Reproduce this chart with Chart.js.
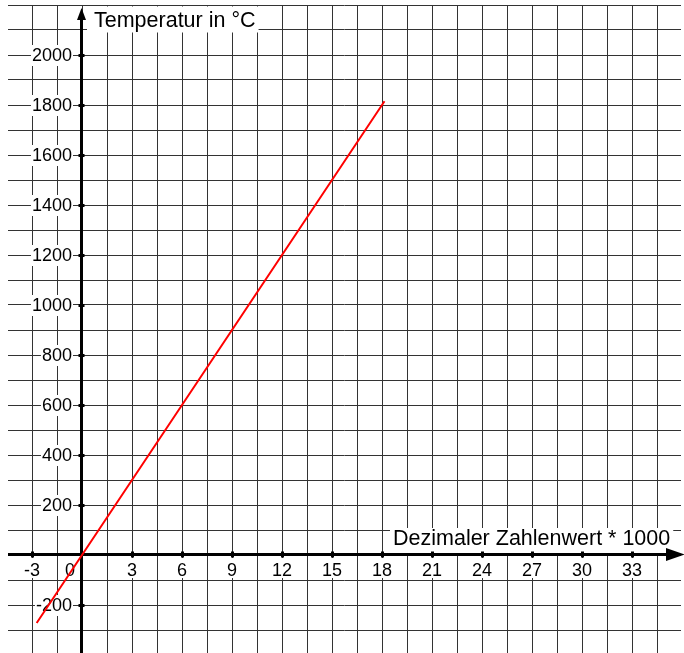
<!DOCTYPE html>
<html>
<head>
<meta charset="utf-8">
<script src="https://cdn.jsdelivr.net/npm/chart.js@4"></script>
<style>
  html, body { margin: 0; padding: 0; background: #fff; }
  #wrap { width: 684px; height: 653px; }
</style>
</head>
<body>
<div id="wrap"><canvas id="c" width="684" height="653"></canvas></div>
<script>
// ---- data ----
const xValues = [-2.72, 0, 18.15];
const yValues = [-272, 0, 1815];

const xTickLabels = [-3, 3, 6, 9, 12, 15, 18, 21, 24, 27, 30, 33];
const yTickLabels = [-200, 200, 400, 600, 800, 1000, 1200, 1400, 1600, 1800, 2000];
const originLabel = '0';

const xGridLines = [-3, -1.5, 0, 1.5, 3, 4.5, 6, 7.5, 9, 10.5, 12, 13.5, 15, 16.5, 18, 19.5,
  21, 22.5, 24, 25.5, 27, 28.5, 30, 31.5, 33, 34.5];
const yGridLines = [-300, -200, -100, 0, 100, 200, 300, 400, 500, 600, 700, 800, 900, 1000,
  1100, 1200, 1300, 1400, 1500, 1600, 1700, 1800, 1900, 2000, 2100, 2200];

const yAxisTitle = 'Temperatur in °C';
const xAxisTitle = 'Dezimaler Zahlenwert * 1000';

const X_MIN = -4.44, X_MAX = 35.94;
const Y_MIN = -392, Y_MAX = 2200;

const points = xValues.map((x, i) => ({ x: x, y: yValues[i] }));

const FONT = '"Liberation Sans", Arial, sans-serif';

const axisPlugin = {
  id: 'axisPlugin',
  beforeDatasetsDraw(chart) {
    const ctx = chart.ctx;
    const xs = chart.scales.x, ys = chart.scales.y;
    const ca = chart.chartArea;
    const x0 = xs.getPixelForValue(0);
    const y0 = ys.getPixelForValue(0);
    ctx.save();

    // ---- tick label backgrounds + text ----
    ctx.font = '18px ' + FONT;
    ctx.fillStyle = '#000';
    // y labels
    ctx.textAlign = 'right';
    ctx.textBaseline = 'middle';
    yTickLabels.forEach(v => {
      const py = ys.getPixelForValue(v);
      const t = String(v);
      const w = ctx.measureText(t).width;
      ctx.fillStyle = '#fff';
      ctx.fillRect(x0 - 10 - w - 1, py - 10, w + 2, 21);
      ctx.fillStyle = '#000';
      ctx.fillText(t, x0 - 10, py + 1);
    });
    // x labels
    ctx.textAlign = 'center';
    ctx.textBaseline = 'alphabetic';
    xTickLabels.forEach(v => {
      const px = xs.getPixelForValue(v);
      const t = String(v);
      const w = ctx.measureText(t).width;
      ctx.fillStyle = '#fff';
      ctx.fillRect(px - w / 2 - 1, y0 + 3, w + 2, 20);
      ctx.fillStyle = '#000';
      ctx.fillText(t, px, y0 + 21);
    });
    // origin label
    {
      const w = ctx.measureText(originLabel).width;
      ctx.fillStyle = '#fff';
      ctx.fillRect(x0 - 12 - w / 2 - 1, y0 + 3, w + 2, 20);
      ctx.fillStyle = '#000';
      ctx.fillText(originLabel, x0 - 12, y0 + 21);
    }

    // ---- axis titles ----
    ctx.font = '21.5px ' + FONT;
    ctx.textAlign = 'left';
    ctx.textBaseline = 'alphabetic';
    {
      const w = ctx.measureText(yAxisTitle).width;
      ctx.fillStyle = '#fff';
      ctx.fillRect(x0 + 5, ca.top + 1.5, w + 10, 26);
      ctx.fillStyle = '#000';
      ctx.fillText(yAxisTitle, x0 + 12, ca.top + 22);
    }
    {
      const w = ctx.measureText(xAxisTitle).width;
      ctx.fillStyle = '#fff';
      ctx.fillRect(x0 + 308, y0 - 27, w + 6, 25);
      ctx.fillStyle = '#000';
      ctx.fillText(xAxisTitle, x0 + 311, y0 - 10);
    }

    // ---- axes ----
    ctx.strokeStyle = '#000';
    ctx.fillStyle = '#000';
    ctx.lineWidth = 3;
    const ax = Math.round(x0) - 0.5;
    const ay = Math.round(y0) - 0.5;
    // x axis
    ctx.beginPath();
    ctx.moveTo(ca.left, ay);
    ctx.lineTo(chart.width - 12, ay);
    ctx.stroke();
    ctx.beginPath();
    ctx.moveTo(chart.width + 1, ay);
    ctx.lineTo(chart.width - 18, ay - 6.5);
    ctx.lineTo(chart.width - 18, ay + 6.5);
    ctx.closePath();
    ctx.fill();
    // y axis
    ctx.beginPath();
    ctx.moveTo(ax, chart.height);
    ctx.lineTo(ax, ca.top + 12);
    ctx.stroke();
    ctx.beginPath();
    ctx.moveTo(ax, ca.top + 3);
    ctx.lineTo(ax - 4.5, ca.top + 15);
    ctx.lineTo(ax + 4.5, ca.top + 15);
    ctx.closePath();
    ctx.fill();

    // tick marks
    xTickLabels.forEach(v => {
      const px = Math.round(xs.getPixelForValue(v));
      ctx.fillRect(px - 1, ay - 3, 3, 6);
    });
    yTickLabels.forEach(v => {
      const py = Math.round(ys.getPixelForValue(v));
      ctx.fillRect(ax - 3, py - 1, 6, 3);
    });
    ctx.restore();
  }
};

new Chart(document.getElementById('c'), {
  type: 'scatter',
  data: {
    datasets: [{
      data: points,
      showLine: true,
      borderColor: '#ff0000',
      borderWidth: 2,
      pointRadius: 0,
      fill: false,
      tension: 0
    }]
  },
  options: {
    responsive: false,
    animation: false,
    devicePixelRatio: 1,
    layout: { padding: { left: 8, top: 5, right: 3, bottom: 0 } },
    plugins: { legend: { display: false }, tooltip: { enabled: false }, title: { display: false } },
    scales: {
      x: {
        type: 'linear',
        min: X_MIN,
        max: X_MAX,
        border: { display: false },
        grid: { color: '#333333', lineWidth: 1, drawTicks: false },
        ticks: { display: false },
        afterBuildTicks: s => { s.ticks = xGridLines.map(v => ({ value: v })); }
      },
      y: {
        type: 'linear',
        min: Y_MIN,
        max: Y_MAX,
        border: { display: false },
        grid: { color: '#333333', lineWidth: 1, drawTicks: false },
        ticks: { display: false },
        afterBuildTicks: s => { s.ticks = yGridLines.map(v => ({ value: v })); }
      }
    }
  },
  plugins: [axisPlugin]
});
</script>
</body>
</html>
